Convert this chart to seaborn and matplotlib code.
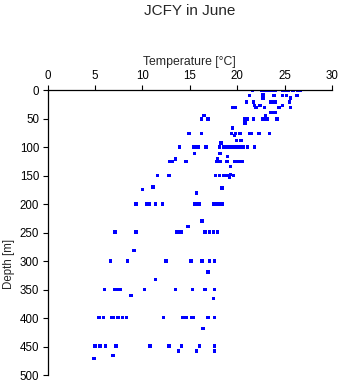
import matplotlib
matplotlib.use("Agg")
import matplotlib.pyplot as plt
import seaborn as sns
import pandas as pd

# temperature [°C] and depth [m], grouped by depth level
temperature = [
    21.6, 22.6, 23.0, 23.3, 23.6, 24.0, 24.8, 25.1, 25.4, 25.9, 26.4, 26.7,
    22.7,
    21.3, 22.8, 23.9, 24.8, 25.2, 26.3,
    22.7, 25.6,
    21.0, 21.7, 23.5, 23.8, 24.0, 25.5,
    21.8, 22.4, 24.8,
    19.5, 19.8, 22.0, 22.9, 24.4, 25.6,
    23.5, 23.8, 24.0,
    16.5, 23.0,
    16.2, 16.9, 20.8, 21.1, 21.7, 22.7, 23.0, 23.2, 24.2,
    20.8,
    19.5,
    14.9, 16.2, 19.4, 19.8, 20.3, 21.3, 21.5, 22.3, 23.4,
    19.7,
    19.9, 20.4,
    18.3,
    13.9, 15.4, 15.7, 15.9, 16.7, 18.1, 18.6, 19.0, 19.3, 19.6, 19.9, 20.2, 20.6, 21.1, 21.8,
    15.5, 18.2,
    19.0,
    13.5, 17.9,
    12.9, 13.1, 14.6, 17.8, 18.2, 18.9, 19.7, 20.0, 20.3, 20.5,
    19.3,
    19.3,
    11.6, 12.8, 17.7, 18.1, 18.6, 18.9, 19.2, 19.6,
    19.2,
    11.1,
    18.4,
    10.0,
    15.7,
    9.3, 10.4, 10.7, 11.4, 12.1, 15.5, 15.8, 16.0, 17.5, 17.8, 18.1, 18.4,
    16.3,
    14.8,
    7.1, 9.3, 13.6, 13.9, 14.1, 16.6, 17.1, 17.5, 17.9,
    9.1,
    6.6, 8.4, 12.5, 15.1, 16.3, 17.1, 17.6,
    16.9,
    11.4,
    6.0, 7.1, 7.4, 7.7, 10.2, 13.5, 15.3, 16.6, 17.6,
    8.8,
    17.5,
    5.4, 5.9, 6.7, 6.9, 7.4, 7.9, 8.3, 12.2, 14.2, 14.6, 15.2, 15.4, 16.9, 17.6,
    16.4,
    5.0, 5.5, 6.1, 7.2, 10.8, 12.8, 14.1, 16.0, 17.6,
    13.8, 15.7, 17.6,
    6.9,
    4.9,
]
depth = (
    [0] * 12 + [8] + [10] * 6 + [14] * 2 + [21] * 6 + [27] * 3 + [31] * 6
    + [39] * 3 + [45] * 2 + [51] * 9 + [58] + [67] + [76] * 9 + [80]
    + [89] * 2 + [93] + [100] * 15 + [111] * 2 + [117] + [121] * 2
    + [125] * 10 + [134] + [148] + [150] * 8 + [154] + [170] + [172]
    + [175] + [181] + [200] * 12 + [230] + [239] + [249] * 9 + [282]
    + [300] * 7 + [319] + [332] + [350] * 9 + [360] + [366] + [399] * 14
    + [418] + [449] * 9 + [458] * 3 + [466] + [471]
)

x_ticks = [0, 5, 10, 15, 20, 25, 30]
y_ticks = [0, 50, 100, 150, 200, 250, 300, 350, 400, 450, 500]

df = pd.DataFrame({"Temperature": temperature, "Depth": depth})

sns.set_style("ticks")
plt.rcParams["font.family"] = ["Liberation Sans", "DejaVu Sans"]

fig = plt.figure(figsize=(3.41, 3.84), dpi=100)
ax = fig.add_axes([0.14, 0.0234, 0.8336, 0.7422])

sns.scatterplot(data=df, x="Temperature", y="Depth", ax=ax, marker="s",
                s=6, color="#0000FF", edgecolor="none", linewidth=0)

ax.set_xlim(0, 30)
ax.set_ylim(500, 0)
ax.set_xticks(x_ticks)
ax.set_yticks(y_ticks)
ax.xaxis.tick_top()
ax.xaxis.set_label_position("top")
ax.set_xlabel("Temperature [°C]", fontsize=8.8, labelpad=3)
ax.set_ylabel("Depth [m]", fontsize=8.3)
ax.yaxis.set_label_coords(-0.115, 0.39)
ax.tick_params(axis="both", labelsize=8.3, length=3.6, width=0.8,
               direction="out", pad=2.5, color="black", labelcolor="black")
for side in ["bottom", "right"]:
    ax.spines[side].set_visible(False)
for side in ["top", "left"]:
    ax.spines[side].set_linewidth(0.9)
    ax.spines[side].set_color("black")

fig.suptitle("JCFY in June", fontsize=11, x=0.557, y=0.99)

fig.savefig("out.png", dpi=100)
